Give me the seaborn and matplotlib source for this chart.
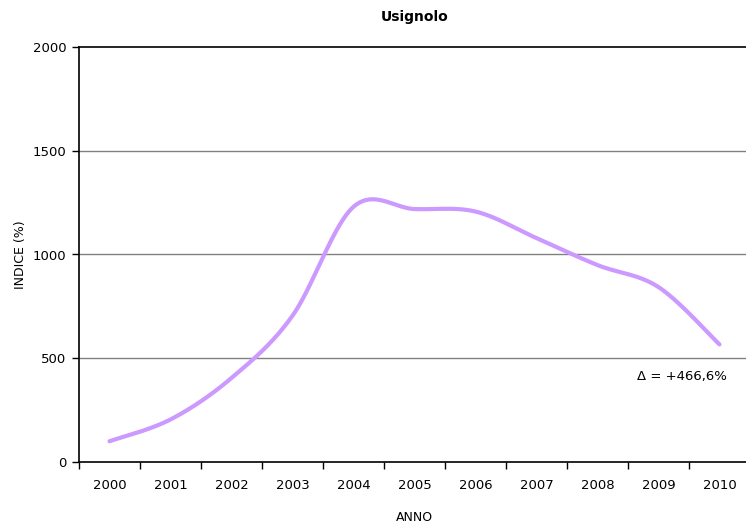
import numpy as np
import pandas as pd
import matplotlib
matplotlib.use("Agg")
import matplotlib.pyplot as plt
import seaborn as sns

# Annual index values (%)
years = ["2000", "2001", "2002", "2003", "2004", "2005",
         "2006", "2007", "2008", "2009", "2010"]
indice = [100, 205, 405, 705, 1230, 1219, 1207, 1079, 949, 843, 566.6]
y_ticks = [0, 500, 1000, 1500, 2000]
title = "Usignolo"
delta_text = "\u0394 = +466,6%"

sns.set_theme(style="white")
plt.rcParams["font.family"] = ["DejaVu Sans"]


def smooth_curve(xs, ys, steps=40):
    """Catmull-Rom cubic Bezier smoothing through every point."""
    xs = np.asarray(xs, float)
    ys = np.asarray(ys, float)
    px = np.concatenate([[xs[0]], xs, [xs[-1]]])
    py = np.concatenate([[ys[0]], ys, [ys[-1]]])
    out_x, out_y = [], []
    t = np.linspace(0, 1, steps)
    for i in range(1, len(px) - 2):
        p0 = np.array([px[i], py[i]])
        p3 = np.array([px[i + 1], py[i + 1]])
        c1 = p0 + (np.array([px[i + 1], py[i + 1]]) - np.array([px[i - 1], py[i - 1]])) / 6
        c2 = p3 - (np.array([px[i + 2], py[i + 2]]) - np.array([px[i], py[i]])) / 6
        b = ((1 - t) ** 3)[:, None] * p0 + (3 * (1 - t) ** 2 * t)[:, None] * c1 \
            + (3 * (1 - t) * t ** 2)[:, None] * c2 + (t ** 3)[:, None] * p3
        out_x.extend(b[:, 0])
        out_y.extend(b[:, 1])
    return np.array(out_x), np.array(out_y)


pos = np.arange(len(years))
sx, sy = smooth_curve(pos, indice)
curve = pd.DataFrame({"pos": sx, "indice": sy})

fig = plt.figure(figsize=(7.46, 5.25), dpi=100)
ax = fig.add_axes([79 / 746, 1 - 462 / 525, 671 / 746, (462 - 47) / 525])

for v in y_ticks[1:-1]:
    ax.axhline(v, color="#808080", lw=1.0, zorder=1)

sns.lineplot(data=curve, x="pos", y="indice", sort=False, ax=ax,
             color="#CC99FF", lw=3.0, zorder=3, estimator=None)

ax.set_xlim(-0.5, len(years) - 0.5)
ax.set_ylim(0, 2000)
ax.set_yticks(y_ticks)
ax.set_yticklabels([str(v) for v in y_ticks], fontsize=9.5, color="black")

# Category labels centred, tick marks on the boundaries
ax.set_xticks(pos)
ax.set_xticklabels(years, fontsize=9.5, color="black")
ax.set_xticks(np.arange(-0.5, len(years) + 0.5, 1.0), minor=True)
ax.tick_params(axis="x", which="major", length=0, pad=12)
ax.tick_params(axis="x", which="minor", length=5, width=1, color="black",
               direction="out", bottom=True)
ax.tick_params(axis="y", length=5, width=1, color="black", direction="out",
               left=True, pad=4)

for side in ["left", "bottom", "top"]:
    ax.spines[side].set_visible(True)
    ax.spines[side].set_color("black")
    ax.spines[side].set_linewidth(1.2)
ax.spines["right"].set_visible(False)

ax.set_xlabel("ANNO", fontsize=9, labelpad=14, color="black")
ax.set_ylabel("INDICE (%)", fontsize=9, color="black")
ax.yaxis.set_label_coords(-0.078, 0.5)
ax.set_title(title, fontsize=10, fontweight="bold", pad=19, color="black")

ax.text(9.39, 414, delta_text, fontsize=9.5, ha="center", va="center",
        color="black")

fig.savefig("out.png", dpi=100, facecolor="white")
